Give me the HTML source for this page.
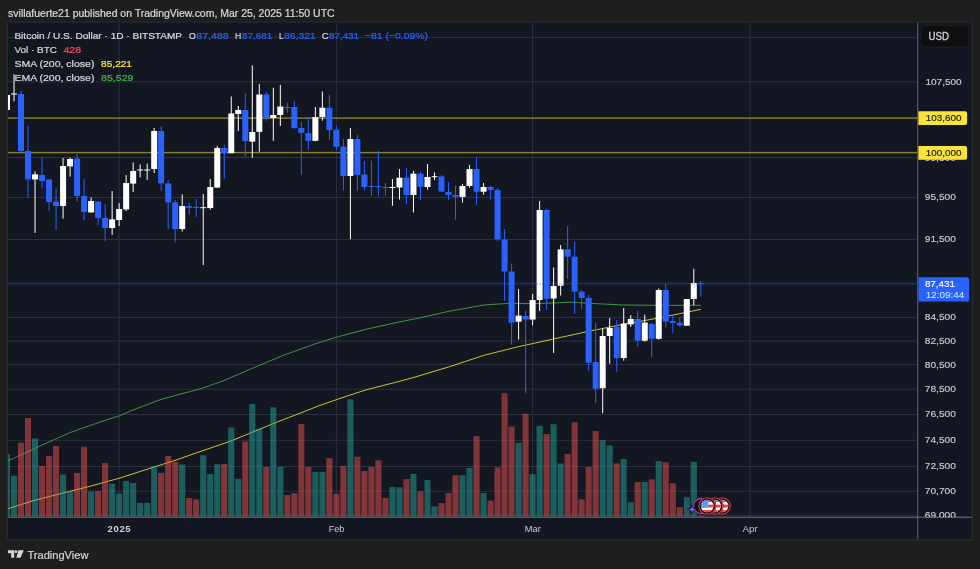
<!DOCTYPE html>
<html><head><meta charset="utf-8"><title>BTCUSD</title>
<style>
html,body{margin:0;padding:0;background:#1e1e1e;}
body{width:980px;height:569px;overflow:hidden;position:relative;font-family:"Liberation Sans",sans-serif;}
svg{position:absolute;left:0;top:0;}
text{font-family:"Liberation Sans",sans-serif;}
</style></head><body>
<svg width="980" height="569" viewBox="0 0 980 569">
<defs><clipPath id="pane"><rect x="8.0" y="22.6" width="909.7" height="494.6"/></clipPath>
<clipPath id="axis"><rect x="917.7" y="22.6" width="54.0" height="494.6"/></clipPath>
<clipPath id="flag"><circle cx="0" cy="0" r="6.3"/></clipPath></defs>
<rect x="0" y="0" width="980" height="569" fill="#1e1e1e"/>
<rect x="6.9" y="21.5" width="966.1" height="519.1999999999999" fill="#2b2b2c"/>
<rect x="8.0" y="22.6" width="963.7" height="516.8" fill="#131722"/>

<g clip-path="url(#pane)" shape-rendering="auto">
<rect x="8.0" y="36.90" width="909.7" height="1" fill="#2c3040"/>
<rect x="8.0" y="81.40" width="909.7" height="1" fill="#2c3040"/>
<rect x="8.0" y="282.60" width="909.7" height="1" fill="#2c3040"/>
<rect x="8.0" y="157.00" width="909.7" height="1" fill="#2c3040"/>
<rect x="8.0" y="197.00" width="909.7" height="1" fill="#2c3040"/>
<rect x="8.0" y="239.00" width="909.7" height="1" fill="#2c3040"/>
<rect x="8.0" y="316.90" width="909.7" height="1" fill="#2c3040"/>
<rect x="8.0" y="340.50" width="909.7" height="1" fill="#2c3040"/>
<rect x="8.0" y="364.00" width="909.7" height="1" fill="#2c3040"/>
<rect x="8.0" y="388.70" width="909.7" height="1" fill="#2c3040"/>
<rect x="8.0" y="414.00" width="909.7" height="1" fill="#2c3040"/>
<rect x="8.0" y="439.80" width="909.7" height="1" fill="#2c3040"/>
<rect x="8.0" y="466.00" width="909.7" height="1" fill="#2c3040"/>
<rect x="8.0" y="490.70" width="909.7" height="1" fill="#2c3040"/>
<rect x="8.0" y="514.60" width="909.7" height="1" fill="#2c3040"/>
<rect x="118.64" y="22.6" width="1" height="494.6" fill="#2c3040"/>
<rect x="335.88" y="22.6" width="1" height="494.6" fill="#2c3040"/>
<rect x="532.11" y="22.6" width="1" height="494.6" fill="#2c3040"/>
<rect x="749.36" y="22.6" width="1" height="494.6" fill="#2c3040"/>
<path d="M7.8,461.0 L40.0,446.0 L70.0,432.6 L106.0,420.0 L120.0,415.6 L130.6,410.9 L161.2,399.3 L201.0,388.6 L222.4,381.2 L253.0,368.0 L283.7,355.2 L314.3,344.2 L335.7,337.4 L366.3,329.2 L400.0,321.8 L414.7,318.9 L449.4,311.2 L484.0,305.0 L505.0,303.6 L536.0,303.6 L570.8,302.2 L595.0,303.6 L623.0,305.0 L657.6,305.3 L701.0,305.3" fill="none" stroke="#409a45" stroke-width="0.95" stroke-linejoin="round"/>
<path d="M7.8,508.8 L32.0,501.0 L60.0,493.8 L88.0,486.8 L120.0,478.0 L152.0,467.7 L176.0,460.0 L196.0,453.0 L231.0,441.0 L276.0,422.5 L321.0,405.0 L347.0,396.0 L366.3,389.8 L400.0,381.2 L414.7,377.2 L449.4,366.7 L484.0,355.3 L518.8,346.6 L553.5,339.0 L588.2,331.4 L623.0,324.4 L657.6,318.2 L701.0,309.3" fill="none" stroke="#e6d23c" stroke-width="0.9" stroke-linejoin="round"/>
<rect x="3.96" y="454.0" width="6.1" height="62.4" fill="rgba(38,166,154,0.5)"/>
<rect x="10.97" y="475.7" width="6.1" height="40.7" fill="rgba(38,166,154,0.5)"/>
<rect x="17.97" y="442.7" width="6.1" height="73.7" fill="rgba(239,83,80,0.5)"/>
<rect x="24.98" y="418.0" width="6.1" height="98.4" fill="rgba(239,83,80,0.5)"/>
<rect x="31.99" y="438.5" width="6.1" height="77.9" fill="rgba(38,166,154,0.5)"/>
<rect x="39.00" y="466.0" width="6.1" height="50.4" fill="rgba(239,83,80,0.5)"/>
<rect x="46.01" y="456.0" width="6.1" height="60.4" fill="rgba(239,83,80,0.5)"/>
<rect x="53.01" y="446.0" width="6.1" height="70.4" fill="rgba(239,83,80,0.5)"/>
<rect x="60.02" y="474.5" width="6.1" height="41.9" fill="rgba(38,166,154,0.5)"/>
<rect x="67.03" y="491.8" width="6.1" height="24.6" fill="rgba(38,166,154,0.5)"/>
<rect x="74.04" y="473.0" width="6.1" height="43.4" fill="rgba(239,83,80,0.5)"/>
<rect x="81.05" y="446.7" width="6.1" height="69.7" fill="rgba(239,83,80,0.5)"/>
<rect x="88.05" y="491.6" width="6.1" height="24.8" fill="rgba(38,166,154,0.5)"/>
<rect x="95.06" y="491.2" width="6.1" height="25.2" fill="rgba(239,83,80,0.5)"/>
<rect x="102.07" y="463.0" width="6.1" height="53.4" fill="rgba(239,83,80,0.5)"/>
<rect x="109.08" y="483.7" width="6.1" height="32.7" fill="rgba(38,166,154,0.5)"/>
<rect x="116.09" y="493.6" width="6.1" height="22.8" fill="rgba(38,166,154,0.5)"/>
<rect x="123.09" y="481.0" width="6.1" height="35.4" fill="rgba(38,166,154,0.5)"/>
<rect x="130.10" y="483.0" width="6.1" height="33.4" fill="rgba(38,166,154,0.5)"/>
<rect x="137.11" y="502.8" width="6.1" height="13.6" fill="rgba(38,166,154,0.5)"/>
<rect x="144.12" y="502.8" width="6.1" height="13.6" fill="rgba(38,166,154,0.5)"/>
<rect x="151.13" y="466.0" width="6.1" height="50.4" fill="rgba(38,166,154,0.5)"/>
<rect x="158.13" y="473.0" width="6.1" height="43.4" fill="rgba(239,83,80,0.5)"/>
<rect x="165.14" y="456.0" width="6.1" height="60.4" fill="rgba(239,83,80,0.5)"/>
<rect x="172.15" y="461.7" width="6.1" height="54.7" fill="rgba(239,83,80,0.5)"/>
<rect x="179.16" y="464.5" width="6.1" height="51.9" fill="rgba(38,166,154,0.5)"/>
<rect x="186.17" y="498.0" width="6.1" height="18.4" fill="rgba(239,83,80,0.5)"/>
<rect x="193.17" y="499.3" width="6.1" height="17.1" fill="rgba(239,83,80,0.5)"/>
<rect x="200.18" y="455.2" width="6.1" height="61.2" fill="rgba(38,166,154,0.5)"/>
<rect x="207.19" y="474.0" width="6.1" height="42.4" fill="rgba(38,166,154,0.5)"/>
<rect x="214.20" y="464.2" width="6.1" height="52.2" fill="rgba(38,166,154,0.5)"/>
<rect x="221.21" y="464.0" width="6.1" height="52.4" fill="rgba(239,83,80,0.5)"/>
<rect x="228.21" y="427.5" width="6.1" height="88.9" fill="rgba(38,166,154,0.5)"/>
<rect x="235.22" y="478.8" width="6.1" height="37.6" fill="rgba(38,166,154,0.5)"/>
<rect x="242.23" y="441.7" width="6.1" height="74.7" fill="rgba(239,83,80,0.5)"/>
<rect x="249.24" y="403.9" width="6.1" height="112.5" fill="rgba(38,166,154,0.5)"/>
<rect x="256.25" y="428.6" width="6.1" height="87.8" fill="rgba(38,166,154,0.5)"/>
<rect x="263.25" y="466.9" width="6.1" height="49.5" fill="rgba(239,83,80,0.5)"/>
<rect x="270.26" y="407.3" width="6.1" height="109.1" fill="rgba(38,166,154,0.5)"/>
<rect x="277.27" y="466.9" width="6.1" height="49.5" fill="rgba(38,166,154,0.5)"/>
<rect x="284.28" y="495.0" width="6.1" height="21.4" fill="rgba(239,83,80,0.5)"/>
<rect x="291.29" y="493.2" width="6.1" height="23.2" fill="rgba(239,83,80,0.5)"/>
<rect x="298.29" y="424.1" width="6.1" height="92.3" fill="rgba(239,83,80,0.5)"/>
<rect x="305.30" y="466.9" width="6.1" height="49.5" fill="rgba(239,83,80,0.5)"/>
<rect x="312.31" y="472.0" width="6.1" height="44.4" fill="rgba(38,166,154,0.5)"/>
<rect x="319.32" y="471.8" width="6.1" height="44.6" fill="rgba(38,166,154,0.5)"/>
<rect x="326.33" y="458.1" width="6.1" height="58.3" fill="rgba(239,83,80,0.5)"/>
<rect x="333.33" y="493.7" width="6.1" height="22.7" fill="rgba(239,83,80,0.5)"/>
<rect x="340.34" y="466.2" width="6.1" height="50.2" fill="rgba(239,83,80,0.5)"/>
<rect x="347.35" y="399.4" width="6.1" height="117.0" fill="rgba(38,166,154,0.5)"/>
<rect x="354.36" y="456.8" width="6.1" height="59.6" fill="rgba(239,83,80,0.5)"/>
<rect x="361.37" y="471.0" width="6.1" height="45.4" fill="rgba(239,83,80,0.5)"/>
<rect x="368.37" y="466.8" width="6.1" height="49.6" fill="rgba(239,83,80,0.5)"/>
<rect x="375.38" y="460.4" width="6.1" height="56.0" fill="rgba(239,83,80,0.5)"/>
<rect x="382.39" y="497.9" width="6.1" height="18.5" fill="rgba(239,83,80,0.5)"/>
<rect x="389.40" y="487.0" width="6.1" height="29.4" fill="rgba(38,166,154,0.5)"/>
<rect x="396.41" y="487.3" width="6.1" height="29.1" fill="rgba(38,166,154,0.5)"/>
<rect x="403.41" y="479.0" width="6.1" height="37.4" fill="rgba(239,83,80,0.5)"/>
<rect x="410.42" y="473.9" width="6.1" height="42.5" fill="rgba(38,166,154,0.5)"/>
<rect x="417.43" y="491.3" width="6.1" height="25.1" fill="rgba(239,83,80,0.5)"/>
<rect x="424.44" y="480.0" width="6.1" height="36.4" fill="rgba(38,166,154,0.5)"/>
<rect x="431.45" y="506.4" width="6.1" height="10.0" fill="rgba(38,166,154,0.5)"/>
<rect x="438.45" y="503.0" width="6.1" height="13.4" fill="rgba(239,83,80,0.5)"/>
<rect x="445.46" y="493.0" width="6.1" height="23.4" fill="rgba(239,83,80,0.5)"/>
<rect x="452.47" y="475.3" width="6.1" height="41.1" fill="rgba(239,83,80,0.5)"/>
<rect x="459.48" y="475.3" width="6.1" height="41.1" fill="rgba(38,166,154,0.5)"/>
<rect x="466.49" y="468.0" width="6.1" height="48.4" fill="rgba(38,166,154,0.5)"/>
<rect x="473.49" y="436.2" width="6.1" height="80.2" fill="rgba(239,83,80,0.5)"/>
<rect x="480.50" y="493.0" width="6.1" height="23.4" fill="rgba(38,166,154,0.5)"/>
<rect x="487.51" y="500.7" width="6.1" height="15.7" fill="rgba(239,83,80,0.5)"/>
<rect x="494.52" y="467.3" width="6.1" height="49.1" fill="rgba(239,83,80,0.5)"/>
<rect x="501.53" y="393.3" width="6.1" height="123.1" fill="rgba(239,83,80,0.5)"/>
<rect x="508.53" y="426.5" width="6.1" height="89.9" fill="rgba(239,83,80,0.5)"/>
<rect x="515.54" y="442.8" width="6.1" height="73.6" fill="rgba(38,166,154,0.5)"/>
<rect x="522.55" y="413.8" width="6.1" height="102.6" fill="rgba(239,83,80,0.5)"/>
<rect x="529.56" y="474.1" width="6.1" height="42.3" fill="rgba(38,166,154,0.5)"/>
<rect x="536.57" y="425.8" width="6.1" height="90.6" fill="rgba(38,166,154,0.5)"/>
<rect x="543.57" y="434.0" width="6.1" height="82.4" fill="rgba(239,83,80,0.5)"/>
<rect x="550.58" y="424.2" width="6.1" height="92.2" fill="rgba(38,166,154,0.5)"/>
<rect x="557.59" y="463.5" width="6.1" height="52.9" fill="rgba(38,166,154,0.5)"/>
<rect x="564.60" y="454.0" width="6.1" height="62.4" fill="rgba(239,83,80,0.5)"/>
<rect x="571.61" y="422.3" width="6.1" height="94.1" fill="rgba(239,83,80,0.5)"/>
<rect x="578.61" y="499.3" width="6.1" height="17.1" fill="rgba(239,83,80,0.5)"/>
<rect x="585.62" y="467.0" width="6.1" height="49.4" fill="rgba(239,83,80,0.5)"/>
<rect x="592.63" y="431.0" width="6.1" height="85.4" fill="rgba(239,83,80,0.5)"/>
<rect x="599.64" y="440.0" width="6.1" height="76.4" fill="rgba(38,166,154,0.5)"/>
<rect x="606.65" y="445.4" width="6.1" height="71.0" fill="rgba(38,166,154,0.5)"/>
<rect x="613.65" y="463.5" width="6.1" height="52.9" fill="rgba(239,83,80,0.5)"/>
<rect x="620.66" y="459.0" width="6.1" height="57.4" fill="rgba(38,166,154,0.5)"/>
<rect x="627.67" y="502.1" width="6.1" height="14.3" fill="rgba(38,166,154,0.5)"/>
<rect x="634.68" y="482.1" width="6.1" height="34.3" fill="rgba(239,83,80,0.5)"/>
<rect x="641.69" y="481.9" width="6.1" height="34.5" fill="rgba(38,166,154,0.5)"/>
<rect x="648.69" y="479.3" width="6.1" height="37.1" fill="rgba(239,83,80,0.5)"/>
<rect x="655.70" y="461.1" width="6.1" height="55.3" fill="rgba(38,166,154,0.5)"/>
<rect x="662.71" y="462.3" width="6.1" height="54.1" fill="rgba(239,83,80,0.5)"/>
<rect x="669.72" y="483.3" width="6.1" height="33.1" fill="rgba(239,83,80,0.5)"/>
<rect x="676.73" y="507.1" width="6.1" height="9.3" fill="rgba(239,83,80,0.5)"/>
<rect x="683.73" y="497.2" width="6.1" height="19.2" fill="rgba(38,166,154,0.5)"/>
<rect x="690.74" y="461.8" width="6.1" height="54.6" fill="rgba(38,166,154,0.5)"/>
<rect x="697.75" y="515.4" width="6.1" height="1.0" fill="rgba(239,83,80,0.5)"/>
<rect x="8.0" y="117.4" width="909.7" height="1.4" fill="rgba(255,235,59,0.5)"/>
<rect x="8.0" y="151.9" width="909.7" height="1.4" fill="rgba(255,235,59,0.5)"/>
<rect x="6.51" y="95.0" width="1" height="15.0" fill="#ffffff"/>
<rect x="4.01" y="95.0" width="6" height="15.0" fill="#ffffff"/>
<rect x="13.52" y="74.2" width="1" height="27.2" fill="#ffffff"/>
<rect x="11.02" y="93.5" width="6" height="1.0" fill="#ffffff"/>
<rect x="20.52" y="91.0" width="1" height="61.4" fill="#2962ff"/>
<rect x="18.02" y="94.0" width="6" height="57.0" fill="#2962ff"/>
<rect x="27.53" y="126.0" width="1" height="71.4" fill="#2962ff"/>
<rect x="25.03" y="151.0" width="6" height="28.4" fill="#2962ff"/>
<rect x="34.54" y="171.4" width="1" height="61.6" fill="#ffffff"/>
<rect x="32.04" y="174.4" width="6" height="5.0" fill="#ffffff"/>
<rect x="41.55" y="157.0" width="1" height="31.4" fill="#2962ff"/>
<rect x="39.05" y="175.0" width="6" height="6.0" fill="#2962ff"/>
<rect x="48.56" y="178.6" width="1" height="32.4" fill="#2962ff"/>
<rect x="46.06" y="179.6" width="6" height="22.4" fill="#2962ff"/>
<rect x="55.56" y="188.0" width="1" height="42.0" fill="#2962ff"/>
<rect x="53.06" y="201.6" width="6" height="4.4" fill="#2962ff"/>
<rect x="62.57" y="158.0" width="1" height="60.6" fill="#ffffff"/>
<rect x="60.07" y="166.0" width="6" height="40.0" fill="#ffffff"/>
<rect x="69.58" y="157.6" width="1" height="19.0" fill="#ffffff"/>
<rect x="67.08" y="159.0" width="6" height="7.4" fill="#ffffff"/>
<rect x="76.59" y="153.6" width="1" height="48.0" fill="#2962ff"/>
<rect x="74.09" y="158.6" width="6" height="37.4" fill="#2962ff"/>
<rect x="83.60" y="179.0" width="1" height="41.4" fill="#2962ff"/>
<rect x="81.10" y="196.0" width="6" height="16.0" fill="#2962ff"/>
<rect x="90.60" y="197.4" width="1" height="15.6" fill="#ffffff"/>
<rect x="88.10" y="201.0" width="6" height="11.4" fill="#ffffff"/>
<rect x="97.61" y="201.0" width="1" height="24.0" fill="#2962ff"/>
<rect x="95.11" y="201.6" width="6" height="16.4" fill="#2962ff"/>
<rect x="104.62" y="204.0" width="1" height="37.0" fill="#2962ff"/>
<rect x="102.12" y="218.0" width="6" height="10.0" fill="#2962ff"/>
<rect x="111.63" y="191.0" width="1" height="44.0" fill="#ffffff"/>
<rect x="109.13" y="219.4" width="6" height="8.6" fill="#ffffff"/>
<rect x="118.64" y="203.0" width="1" height="23.0" fill="#ffffff"/>
<rect x="116.14" y="209.0" width="6" height="11.0" fill="#ffffff"/>
<rect x="125.64" y="175.0" width="1" height="36.0" fill="#ffffff"/>
<rect x="123.14" y="183.0" width="6" height="26.4" fill="#ffffff"/>
<rect x="132.65" y="162.4" width="1" height="29.6" fill="#ffffff"/>
<rect x="130.15" y="171.0" width="6" height="12.6" fill="#ffffff"/>
<rect x="139.66" y="164.4" width="1" height="13.0" fill="#ffffff"/>
<rect x="137.16" y="169.5" width="6" height="1.0" fill="#ffffff"/>
<rect x="146.67" y="163.6" width="1" height="16.4" fill="#ffffff"/>
<rect x="144.17" y="169.5" width="6" height="1.0" fill="#ffffff"/>
<rect x="153.68" y="128.0" width="1" height="45.0" fill="#ffffff"/>
<rect x="151.18" y="131.0" width="6" height="38.0" fill="#ffffff"/>
<rect x="160.68" y="126.0" width="1" height="65.0" fill="#2962ff"/>
<rect x="158.18" y="131.0" width="6" height="52.4" fill="#2962ff"/>
<rect x="167.69" y="180.0" width="1" height="49.0" fill="#2962ff"/>
<rect x="165.19" y="183.4" width="6" height="19.0" fill="#2962ff"/>
<rect x="174.70" y="200.0" width="1" height="42.4" fill="#2962ff"/>
<rect x="172.20" y="202.4" width="6" height="26.6" fill="#2962ff"/>
<rect x="181.71" y="194.4" width="1" height="37.2" fill="#ffffff"/>
<rect x="179.21" y="206.0" width="6" height="23.0" fill="#ffffff"/>
<rect x="188.72" y="203.0" width="1" height="12.0" fill="#2962ff"/>
<rect x="186.22" y="206.2" width="6" height="1.7" fill="#2962ff"/>
<rect x="195.72" y="199.0" width="1" height="17.8" fill="#2962ff"/>
<rect x="193.22" y="207.0" width="6" height="1.0" fill="#2962ff"/>
<rect x="202.73" y="194.0" width="1" height="71.0" fill="#ffffff"/>
<rect x="200.23" y="207.2" width="6" height="1.0" fill="#ffffff"/>
<rect x="209.74" y="179.0" width="1" height="30.7" fill="#ffffff"/>
<rect x="207.24" y="187.0" width="6" height="21.0" fill="#ffffff"/>
<rect x="216.75" y="146.0" width="1" height="42.0" fill="#ffffff"/>
<rect x="214.25" y="148.0" width="6" height="39.5" fill="#ffffff"/>
<rect x="223.76" y="144.8" width="1" height="34.2" fill="#2962ff"/>
<rect x="221.26" y="148.0" width="6" height="5.0" fill="#2962ff"/>
<rect x="230.76" y="96.5" width="1" height="56.7" fill="#ffffff"/>
<rect x="228.26" y="113.5" width="6" height="39.7" fill="#ffffff"/>
<rect x="237.77" y="106.0" width="1" height="25.0" fill="#ffffff"/>
<rect x="235.27" y="110.0" width="6" height="4.0" fill="#ffffff"/>
<rect x="244.78" y="93.0" width="1" height="64.0" fill="#2962ff"/>
<rect x="242.28" y="110.0" width="6" height="31.0" fill="#2962ff"/>
<rect x="251.79" y="65.4" width="1" height="92.6" fill="#ffffff"/>
<rect x="249.29" y="132.0" width="6" height="9.6" fill="#ffffff"/>
<rect x="258.80" y="84.0" width="1" height="67.7" fill="#ffffff"/>
<rect x="256.30" y="94.5" width="6" height="37.3" fill="#ffffff"/>
<rect x="265.80" y="92.0" width="1" height="28.7" fill="#2962ff"/>
<rect x="263.30" y="94.5" width="6" height="23.5" fill="#2962ff"/>
<rect x="272.81" y="87.7" width="1" height="53.1" fill="#ffffff"/>
<rect x="270.31" y="115.0" width="6" height="3.0" fill="#ffffff"/>
<rect x="279.82" y="85.0" width="1" height="41.0" fill="#ffffff"/>
<rect x="277.32" y="106.5" width="6" height="8.5" fill="#ffffff"/>
<rect x="286.83" y="102.5" width="1" height="10.5" fill="#2962ff"/>
<rect x="284.33" y="107.0" width="6" height="1.0" fill="#2962ff"/>
<rect x="293.84" y="101.0" width="1" height="28.0" fill="#2962ff"/>
<rect x="291.34" y="107.0" width="6" height="21.0" fill="#2962ff"/>
<rect x="300.84" y="122.0" width="1" height="53.0" fill="#2962ff"/>
<rect x="298.34" y="128.0" width="6" height="4.8" fill="#2962ff"/>
<rect x="307.85" y="117.0" width="1" height="33.0" fill="#2962ff"/>
<rect x="305.35" y="133.0" width="6" height="7.8" fill="#2962ff"/>
<rect x="314.86" y="107.0" width="1" height="34.2" fill="#ffffff"/>
<rect x="312.36" y="117.0" width="6" height="23.8" fill="#ffffff"/>
<rect x="321.87" y="91.5" width="1" height="29.2" fill="#ffffff"/>
<rect x="319.37" y="107.7" width="6" height="9.3" fill="#ffffff"/>
<rect x="328.88" y="95.0" width="1" height="44.8" fill="#2962ff"/>
<rect x="326.38" y="107.7" width="6" height="22.3" fill="#2962ff"/>
<rect x="335.88" y="126.0" width="1" height="24.0" fill="#2962ff"/>
<rect x="333.38" y="129.7" width="6" height="17.1" fill="#2962ff"/>
<rect x="342.89" y="139.0" width="1" height="51.5" fill="#2962ff"/>
<rect x="340.39" y="146.6" width="6" height="29.4" fill="#2962ff"/>
<rect x="349.90" y="128.0" width="1" height="111.2" fill="#ffffff"/>
<rect x="347.40" y="139.0" width="6" height="37.0" fill="#ffffff"/>
<rect x="356.91" y="135.0" width="1" height="56.0" fill="#2962ff"/>
<rect x="354.41" y="139.0" width="6" height="36.0" fill="#2962ff"/>
<rect x="363.92" y="161.0" width="1" height="29.5" fill="#2962ff"/>
<rect x="361.42" y="174.5" width="6" height="12.5" fill="#2962ff"/>
<rect x="370.92" y="160.6" width="1" height="35.1" fill="#2962ff"/>
<rect x="368.42" y="186.0" width="6" height="1.0" fill="#2962ff"/>
<rect x="377.93" y="151.0" width="1" height="44.7" fill="#2962ff"/>
<rect x="375.43" y="186.2" width="6" height="1.0" fill="#2962ff"/>
<rect x="384.94" y="183.0" width="1" height="12.7" fill="#2962ff"/>
<rect x="382.44" y="187.0" width="6" height="1.0" fill="#2962ff"/>
<rect x="391.95" y="179.0" width="1" height="26.7" fill="#ffffff"/>
<rect x="389.45" y="187.0" width="6" height="1.0" fill="#ffffff"/>
<rect x="398.96" y="169.0" width="1" height="30.5" fill="#ffffff"/>
<rect x="396.46" y="177.7" width="6" height="9.8" fill="#ffffff"/>
<rect x="405.96" y="167.6" width="1" height="36.9" fill="#2962ff"/>
<rect x="403.46" y="177.7" width="6" height="17.3" fill="#2962ff"/>
<rect x="412.97" y="171.0" width="1" height="41.5" fill="#ffffff"/>
<rect x="410.47" y="173.7" width="6" height="21.3" fill="#ffffff"/>
<rect x="419.98" y="171.5" width="1" height="28.5" fill="#2962ff"/>
<rect x="417.48" y="173.7" width="6" height="13.3" fill="#2962ff"/>
<rect x="426.99" y="164.0" width="1" height="25.7" fill="#ffffff"/>
<rect x="424.49" y="177.0" width="6" height="10.0" fill="#ffffff"/>
<rect x="434.00" y="172.5" width="1" height="7.5" fill="#ffffff"/>
<rect x="431.50" y="176.2" width="6" height="1.0" fill="#ffffff"/>
<rect x="441.00" y="175.0" width="1" height="17.0" fill="#2962ff"/>
<rect x="438.50" y="176.5" width="6" height="15.0" fill="#2962ff"/>
<rect x="448.01" y="182.0" width="1" height="18.0" fill="#2962ff"/>
<rect x="445.51" y="192.0" width="6" height="3.0" fill="#2962ff"/>
<rect x="455.02" y="185.7" width="1" height="33.9" fill="#2962ff"/>
<rect x="452.52" y="195.0" width="6" height="1.7" fill="#2962ff"/>
<rect x="462.03" y="184.0" width="1" height="18.7" fill="#ffffff"/>
<rect x="459.53" y="186.0" width="6" height="11.0" fill="#ffffff"/>
<rect x="469.04" y="165.0" width="1" height="22.7" fill="#ffffff"/>
<rect x="466.54" y="169.0" width="6" height="17.0" fill="#ffffff"/>
<rect x="476.04" y="157.6" width="1" height="47.1" fill="#2962ff"/>
<rect x="473.54" y="169.0" width="6" height="22.7" fill="#2962ff"/>
<rect x="483.05" y="183.0" width="1" height="11.7" fill="#ffffff"/>
<rect x="480.55" y="187.0" width="6" height="4.7" fill="#ffffff"/>
<rect x="490.06" y="185.7" width="1" height="13.8" fill="#2962ff"/>
<rect x="487.56" y="187.0" width="6" height="3.0" fill="#2962ff"/>
<rect x="497.07" y="188.0" width="1" height="53.0" fill="#2962ff"/>
<rect x="494.57" y="190.0" width="6" height="49.3" fill="#2962ff"/>
<rect x="504.08" y="229.0" width="1" height="71.7" fill="#2962ff"/>
<rect x="501.58" y="239.4" width="6" height="32.1" fill="#2962ff"/>
<rect x="511.08" y="263.5" width="1" height="81.0" fill="#2962ff"/>
<rect x="508.58" y="271.5" width="6" height="51.1" fill="#2962ff"/>
<rect x="518.09" y="289.0" width="1" height="50.5" fill="#ffffff"/>
<rect x="515.59" y="315.6" width="6" height="6.1" fill="#ffffff"/>
<rect x="525.10" y="310.7" width="1" height="82.1" fill="#2962ff"/>
<rect x="522.60" y="316.0" width="6" height="3.5" fill="#2962ff"/>
<rect x="532.11" y="294.0" width="1" height="31.3" fill="#ffffff"/>
<rect x="529.61" y="300.0" width="6" height="19.5" fill="#ffffff"/>
<rect x="539.12" y="201.0" width="1" height="110.0" fill="#ffffff"/>
<rect x="536.62" y="210.0" width="6" height="90.0" fill="#ffffff"/>
<rect x="546.12" y="208.7" width="1" height="101.3" fill="#2962ff"/>
<rect x="543.62" y="210.0" width="6" height="88.7" fill="#2962ff"/>
<rect x="553.13" y="267.5" width="1" height="85.5" fill="#ffffff"/>
<rect x="550.63" y="286.0" width="6" height="12.5" fill="#ffffff"/>
<rect x="560.14" y="245.0" width="1" height="50.5" fill="#ffffff"/>
<rect x="557.64" y="249.4" width="6" height="36.3" fill="#ffffff"/>
<rect x="567.15" y="226.0" width="1" height="53.0" fill="#2962ff"/>
<rect x="564.65" y="249.4" width="6" height="7.3" fill="#2962ff"/>
<rect x="574.16" y="242.0" width="1" height="72.0" fill="#2962ff"/>
<rect x="571.66" y="256.7" width="6" height="35.0" fill="#2962ff"/>
<rect x="581.16" y="290.0" width="1" height="18.8" fill="#2962ff"/>
<rect x="578.66" y="291.7" width="6" height="6.3" fill="#2962ff"/>
<rect x="588.17" y="295.0" width="1" height="75.7" fill="#2962ff"/>
<rect x="585.67" y="298.0" width="6" height="64.7" fill="#2962ff"/>
<rect x="595.18" y="323.0" width="1" height="80.2" fill="#2962ff"/>
<rect x="592.68" y="362.0" width="6" height="26.8" fill="#2962ff"/>
<rect x="602.19" y="328.6" width="1" height="84.6" fill="#ffffff"/>
<rect x="599.69" y="336.0" width="6" height="52.2" fill="#ffffff"/>
<rect x="609.20" y="318.0" width="1" height="45.7" fill="#ffffff"/>
<rect x="606.70" y="328.0" width="6" height="8.0" fill="#ffffff"/>
<rect x="616.20" y="320.0" width="1" height="51.7" fill="#2962ff"/>
<rect x="613.70" y="327.0" width="6" height="31.0" fill="#2962ff"/>
<rect x="623.21" y="308.0" width="1" height="52.7" fill="#ffffff"/>
<rect x="620.71" y="323.5" width="6" height="34.5" fill="#ffffff"/>
<rect x="630.22" y="315.0" width="1" height="12.0" fill="#ffffff"/>
<rect x="627.72" y="319.0" width="6" height="5.4" fill="#ffffff"/>
<rect x="637.23" y="311.0" width="1" height="36.0" fill="#2962ff"/>
<rect x="634.73" y="319.0" width="6" height="21.7" fill="#2962ff"/>
<rect x="644.24" y="314.6" width="1" height="27.1" fill="#ffffff"/>
<rect x="641.74" y="322.6" width="6" height="18.1" fill="#ffffff"/>
<rect x="651.24" y="323.0" width="1" height="34.0" fill="#2962ff"/>
<rect x="648.74" y="324.0" width="6" height="14.7" fill="#2962ff"/>
<rect x="658.25" y="288.5" width="1" height="51.2" fill="#ffffff"/>
<rect x="655.75" y="290.0" width="6" height="48.8" fill="#ffffff"/>
<rect x="665.26" y="284.0" width="1" height="43.5" fill="#2962ff"/>
<rect x="662.76" y="290.0" width="6" height="31.5" fill="#2962ff"/>
<rect x="672.27" y="314.3" width="1" height="18.9" fill="#2962ff"/>
<rect x="669.77" y="321.0" width="6" height="2.0" fill="#2962ff"/>
<rect x="679.28" y="317.5" width="1" height="9.3" fill="#2962ff"/>
<rect x="676.78" y="322.7" width="6" height="2.7" fill="#2962ff"/>
<rect x="686.28" y="299.0" width="1" height="26.7" fill="#ffffff"/>
<rect x="683.78" y="299.0" width="6" height="26.7" fill="#ffffff"/>
<rect x="693.29" y="269.0" width="1" height="36.3" fill="#ffffff"/>
<rect x="690.79" y="283.0" width="6" height="16.0" fill="#ffffff"/>
<rect x="700.30" y="281.0" width="1" height="15.4" fill="#2962ff"/>
<rect x="697.80" y="283.2" width="6" height="1.0" fill="#2962ff"/>
<line x1="8.0" y1="284.0" x2="917.7" y2="284.0" stroke="#2962ff" stroke-width="1.3" stroke-dasharray="1 1.45" opacity="0.52"/>
</g>
<circle cx="701.2" cy="506" r="8.4" fill="#0b0b0f"/><circle cx="701.2" cy="506" r="7.65" fill="none" stroke="#b545c9" stroke-width="1.1"/>
<g transform="translate(722.0,506)"><circle r="8.9" fill="#10121a"/><circle r="8.25" fill="none" stroke="#f23645" stroke-width="1.05"/><g clip-path="url(#flag)"><rect x="-7" y="-7" width="14" height="14" fill="#ffffff"/><rect x="-7" y="-6.70" width="14" height="2.7" fill="#f2403c"/><rect x="-7" y="-1.30" width="14" height="2.7" fill="#f2403c"/><rect x="-7" y="4.10" width="14" height="2.7" fill="#f2403c"/><rect x="-7" y="-7" width="8.2" height="8.6" fill="#3b86ec"/><rect x="-5.2" y="-4.5" width="1.3" height="0.8" fill="#e6f0ff"/><rect x="-2.8" y="-4.5" width="1.3" height="0.8" fill="#e6f0ff"/><rect x="-0.4" y="-4.5" width="1.3" height="0.8" fill="#e6f0ff"/><rect x="-5.2" y="-2.4" width="1.3" height="0.8" fill="#e6f0ff"/><rect x="-2.8" y="-2.4" width="1.3" height="0.8" fill="#e6f0ff"/><rect x="-0.4" y="-2.4" width="1.3" height="0.8" fill="#e6f0ff"/><rect x="-5.2" y="-0.3" width="1.3" height="0.8" fill="#e6f0ff"/><rect x="-2.8" y="-0.3" width="1.3" height="0.8" fill="#e6f0ff"/><rect x="-0.4" y="-0.3" width="1.3" height="0.8" fill="#e6f0ff"/></g></g>
<g transform="translate(714.6,506)"><circle r="8.9" fill="#10121a"/><circle r="8.25" fill="none" stroke="#f23645" stroke-width="1.05"/><g clip-path="url(#flag)"><rect x="-7" y="-7" width="14" height="14" fill="#ffffff"/><rect x="-7" y="-6.70" width="14" height="2.7" fill="#f2403c"/><rect x="-7" y="-1.30" width="14" height="2.7" fill="#f2403c"/><rect x="-7" y="4.10" width="14" height="2.7" fill="#f2403c"/><rect x="-7" y="-7" width="8.2" height="8.6" fill="#3b86ec"/><rect x="-5.2" y="-4.5" width="1.3" height="0.8" fill="#e6f0ff"/><rect x="-2.8" y="-4.5" width="1.3" height="0.8" fill="#e6f0ff"/><rect x="-0.4" y="-4.5" width="1.3" height="0.8" fill="#e6f0ff"/><rect x="-5.2" y="-2.4" width="1.3" height="0.8" fill="#e6f0ff"/><rect x="-2.8" y="-2.4" width="1.3" height="0.8" fill="#e6f0ff"/><rect x="-0.4" y="-2.4" width="1.3" height="0.8" fill="#e6f0ff"/><rect x="-5.2" y="-0.3" width="1.3" height="0.8" fill="#e6f0ff"/><rect x="-2.8" y="-0.3" width="1.3" height="0.8" fill="#e6f0ff"/><rect x="-0.4" y="-0.3" width="1.3" height="0.8" fill="#e6f0ff"/></g></g>
<g transform="translate(707.2,506)"><circle r="8.9" fill="#10121a"/><circle r="8.25" fill="none" stroke="#f23645" stroke-width="1.05"/><g clip-path="url(#flag)"><rect x="-7" y="-7" width="14" height="14" fill="#ffffff"/><rect x="-7" y="-6.70" width="14" height="2.7" fill="#f2403c"/><rect x="-7" y="-1.30" width="14" height="2.7" fill="#f2403c"/><rect x="-7" y="4.10" width="14" height="2.7" fill="#f2403c"/><rect x="-7" y="-7" width="8.2" height="8.6" fill="#3b86ec"/><rect x="-5.2" y="-4.5" width="1.3" height="0.8" fill="#e6f0ff"/><rect x="-2.8" y="-4.5" width="1.3" height="0.8" fill="#e6f0ff"/><rect x="-0.4" y="-4.5" width="1.3" height="0.8" fill="#e6f0ff"/><rect x="-5.2" y="-2.4" width="1.3" height="0.8" fill="#e6f0ff"/><rect x="-2.8" y="-2.4" width="1.3" height="0.8" fill="#e6f0ff"/><rect x="-0.4" y="-2.4" width="1.3" height="0.8" fill="#e6f0ff"/><rect x="-5.2" y="-0.3" width="1.3" height="0.8" fill="#e6f0ff"/><rect x="-2.8" y="-0.3" width="1.3" height="0.8" fill="#e6f0ff"/><rect x="-0.4" y="-0.3" width="1.3" height="0.8" fill="#e6f0ff"/></g></g>
<path d="M692.2,505.6 q0.35,3.4 4.2,3.8 q-3.85,0.4 -4.2,3.8 q-0.35,-3.4 -4.2,-3.8 q3.85,-0.4 4.2,-3.8 z" fill="#7c4dff" stroke="#10121a" stroke-width="1.4" paint-order="stroke" stroke-linejoin="round"/>
<rect x="917.2" y="22.6" width="1" height="516.8" fill="#62646d"/>
<rect x="8.0" y="516.65" width="963.7" height="1.1" fill="#70727b"/>
</svg><svg width="980" height="569" viewBox="0 0 980 569" style="will-change:transform"><defs><clipPath id="axis2"><rect x="917.9" y="22.2" width="54.2" height="495"/></clipPath></defs>
<g clip-path="url(#axis2)" font-size="9.7" fill="#c9ccd4">
<text x="925.4" y="85.0" textLength="36.3" lengthAdjust="spacingAndGlyphs" stroke="#c9ccd4" stroke-width="0.15">107,500</text>
<text x="924.8" y="160.8" textLength="31.1" lengthAdjust="spacingAndGlyphs" stroke="#c9ccd4" stroke-width="0.15">99,500</text>
<text x="924.8" y="200.4" textLength="31.1" lengthAdjust="spacingAndGlyphs" stroke="#c9ccd4" stroke-width="0.15">95,500</text>
<text x="924.8" y="242.4" textLength="31.1" lengthAdjust="spacingAndGlyphs" stroke="#c9ccd4" stroke-width="0.15">91,500</text>
<text x="924.8" y="320.4" textLength="31.1" lengthAdjust="spacingAndGlyphs" stroke="#c9ccd4" stroke-width="0.15">84,500</text>
<text x="924.8" y="344.1" textLength="31.1" lengthAdjust="spacingAndGlyphs" stroke="#c9ccd4" stroke-width="0.15">82,500</text>
<text x="924.8" y="367.6" textLength="31.1" lengthAdjust="spacingAndGlyphs" stroke="#c9ccd4" stroke-width="0.15">80,500</text>
<text x="924.8" y="392.2" textLength="31.1" lengthAdjust="spacingAndGlyphs" stroke="#c9ccd4" stroke-width="0.15">78,500</text>
<text x="924.8" y="417.4" textLength="31.1" lengthAdjust="spacingAndGlyphs" stroke="#c9ccd4" stroke-width="0.15">76,500</text>
<text x="924.8" y="443.3" textLength="31.1" lengthAdjust="spacingAndGlyphs" stroke="#c9ccd4" stroke-width="0.15">74,500</text>
<text x="924.8" y="469.4" textLength="31.1" lengthAdjust="spacingAndGlyphs" stroke="#c9ccd4" stroke-width="0.15">72,500</text>
<text x="924.8" y="494.4" textLength="31.1" lengthAdjust="spacingAndGlyphs" stroke="#c9ccd4" stroke-width="0.15">70,700</text>
<text x="924.8" y="518.2" textLength="31.1" lengthAdjust="spacingAndGlyphs" stroke="#c9ccd4" stroke-width="0.15">69,000</text>
</g>
<path d="M918.4,111.15 h46.7 a2,2 0 0 1 2,2 v9.8 a2,2 0 0 1 -2,2 h-46.7 z" fill="#fbe43a"/>
<text x="925.7" y="121.2" font-size="9.7" fill="#131722" textLength="35.8" lengthAdjust="spacingAndGlyphs" stroke="#131722" stroke-width="0.15">103,600</text>
<path d="M918.4,146.00 h46.7 a2,2 0 0 1 2,2 v9.8 a2,2 0 0 1 -2,2 h-46.7 z" fill="#fbe43a"/>
<text x="925.7" y="156.1" font-size="9.7" fill="#131722" textLength="35.8" lengthAdjust="spacingAndGlyphs" stroke="#131722" stroke-width="0.15">100,000</text>
<path d="M918.4,277.2 h48.8 a2,2 0 0 1 2,2 v20.4 a2,2 0 0 1 -2,2 h-48.8 z" fill="#2962ff"/>
<text x="924.9" y="286.6" font-size="9.4" fill="#ffffff" textLength="30.1" lengthAdjust="spacingAndGlyphs" stroke="#ffffff" stroke-width="0.15">87,431</text>
<text x="925.8" y="297.5" font-size="9.4" fill="#ffffff" fill-opacity="0.85" textLength="38.5" lengthAdjust="spacingAndGlyphs">12:09:44</text>
<rect x="920.8" y="25.4" width="48.1" height="21.7" rx="3.8" fill="#0f0f0f" stroke="#252834" stroke-width="0.6"/>
<text x="928.6" y="39.8" font-size="10" fill="#d1d4dc" stroke="#d1d4dc" stroke-width="0.3" textLength="20.4" lengthAdjust="spacingAndGlyphs">USD</text>
<text x="119.4" y="531.9" font-size="9.5" font-weight="bold" fill="#d1d4dc" text-anchor="middle" letter-spacing="0.65">2025</text>
<text x="328.7" y="531.8" font-size="9.4" fill="#c9ccd4" textLength="15.7" lengthAdjust="spacingAndGlyphs">Feb</text>
<text x="524.8" y="531.8" font-size="9.4" fill="#c9ccd4" textLength="16.0" lengthAdjust="spacingAndGlyphs">Mar</text>
<text x="742.6" y="531.8" font-size="9.4" fill="#c9ccd4" textLength="15.0" lengthAdjust="spacingAndGlyphs">Apr</text>
<g font-size="10" fill="#d6d6d6"><text x="8.1" y="17" textLength="326.5" lengthAdjust="spacingAndGlyphs" fill="#d5d8df" stroke="#d5d8df" stroke-width="0.22">svillafuerte21 published on TradingView.com, Mar 25, 2025 11:50 UTC</text></g>
<g font-size="9.75" fill="#d5d8df">
<text x="14.4" y="38.8" textLength="167.7" lengthAdjust="spacingAndGlyphs" fill="#d5d8df" stroke="#d5d8df" stroke-width="0.22">Bitcoin / U.S. Dollar · 1D · BITSTAMP</text>
<text x="188.9" y="38.8" textLength="6.8" lengthAdjust="spacingAndGlyphs" fill="#d5d8df" stroke="#d5d8df" stroke-width="0.22">O</text><text x="196.3" y="38.8" textLength="32.3" lengthAdjust="spacingAndGlyphs" fill="#2962ff" stroke="#2962ff" stroke-width="0.22">87,488</text>
<text x="235.1" y="38.8" textLength="6.3" lengthAdjust="spacingAndGlyphs" fill="#d5d8df" stroke="#d5d8df" stroke-width="0.22">H</text><text x="242" y="38.8" textLength="30.3" lengthAdjust="spacingAndGlyphs" fill="#2962ff" stroke="#2962ff" stroke-width="0.22">87,681</text>
<text x="278.9" y="38.8" textLength="4.6" lengthAdjust="spacingAndGlyphs" fill="#d5d8df" stroke="#d5d8df" stroke-width="0.22">L</text><text x="284" y="38.8" textLength="31.7" lengthAdjust="spacingAndGlyphs" fill="#2962ff" stroke="#2962ff" stroke-width="0.22">86,321</text>
<text x="321.7" y="38.8" textLength="6.9" lengthAdjust="spacingAndGlyphs" fill="#d5d8df" stroke="#d5d8df" stroke-width="0.22">C</text><text x="329.1" y="38.8" textLength="29.8" lengthAdjust="spacingAndGlyphs" fill="#2962ff" stroke="#2962ff" stroke-width="0.22">87,431</text>
<text x="364.9" y="38.8" textLength="63.1" lengthAdjust="spacingAndGlyphs" fill="#2962ff" stroke="#2962ff" stroke-width="0.22">−81 (−0.09%)</text>
<text x="14.4" y="52.9" textLength="42.5" lengthAdjust="spacingAndGlyphs" fill="#d5d8df" stroke="#d5d8df" stroke-width="0.22">Vol · BTC</text><text x="63.4" y="52.9" textLength="17.7" lengthAdjust="spacingAndGlyphs" fill="#f7525f" stroke="#f7525f" stroke-width="0.22">428</text>
<text x="14.4" y="67" textLength="80" lengthAdjust="spacingAndGlyphs" fill="#d5d8df" stroke="#d5d8df" stroke-width="0.22">SMA (200, close)</text><text x="101.1" y="67" textLength="30.9" lengthAdjust="spacingAndGlyphs" fill="#ffeb3b" stroke="#ffeb3b" stroke-width="0.22">85,221</text>
<text x="14.4" y="80.9" textLength="80" lengthAdjust="spacingAndGlyphs" fill="#d5d8df" stroke="#d5d8df" stroke-width="0.22">EMA (200, close)</text><text x="101.1" y="80.9" textLength="32.3" lengthAdjust="spacingAndGlyphs" fill="#4caf50" stroke="#4caf50" stroke-width="0.22">85,529</text>
</g>
<g fill="#d4d6dd"><path d="M7.9,550.2 h6.3 v7.6 h-3 v-4.5 h-3.3 z"/><circle cx="15.9" cy="551.7" r="1.45"/><path d="M18.3,550.2 h5.5 l-3.3,7.6 h-4.1 z"/></g>
<text x="27.4" y="558.5" font-size="11" fill="#d4d6dd" stroke="#d4d6dd" stroke-width="0.2" textLength="61.1" lengthAdjust="spacingAndGlyphs">TradingView</text>
</svg></body></html>
